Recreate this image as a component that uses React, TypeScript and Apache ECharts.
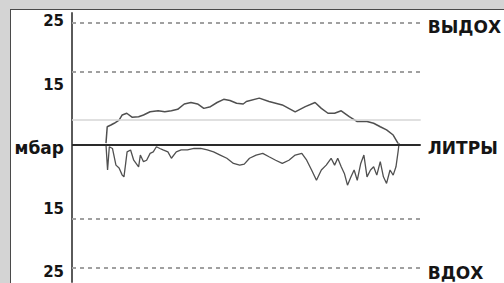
import React, { useEffect, useRef } from "react";
import * as echarts from "echarts";

// Exhale (upper) pressure trace: time (% of cycle) and pressure (mbar)
const exhaleT = [9.75, 10.1, 11.15, 12.1, 13.5, 14.4, 15.7, 17.2, 19.1, 20.5, 22.4, 24.7, 26.6, 28.5, 30.3, 32.2, 34.1, 36.0, 37.8, 39.7, 41.6, 43.5, 45.3, 47.2, 49.1, 50.0, 53.7, 56.5, 60.3, 64.0, 66.9, 69.7, 71.5, 73.4, 75.3, 77.2, 79.5, 81.8, 84.6, 86.5, 88.4, 90.2, 92.1, 93.5];
const exhaleV = [0.4, 3.75, 4.1, 4.45, 5.1, 6.15, 6.5, 5.7, 5.8, 6.15, 6.8, 7.0, 6.8, 7.0, 7.3, 8.4, 8.7, 8.4, 7.5, 7.85, 8.7, 9.35, 9.1, 8.55, 8.4, 8.9, 9.6, 8.9, 8.2, 6.8, 7.85, 8.7, 7.5, 6.5, 6.5, 7.0, 5.8, 4.8, 4.8, 4.45, 3.75, 3.1, 2.05, 0.35];

// Inhale (lower) pressure trace
const inhaleT = [9.75, 10.2, 10.7, 11.6, 12.6, 13.5, 14.4, 14.9, 15.4, 15.8, 16.8, 17.7, 19.1, 19.6, 20.5, 21.4, 22.4, 23.3, 24.2, 25.2, 26.1, 27.5, 28.5, 29.9, 31.3, 33.1, 35.0, 36.9, 38.8, 40.6, 42.5, 44.4, 46.3, 48.1, 49.4, 50.9, 52.8, 54.7, 56.5, 58.4, 60.3, 62.2, 64.0, 65.9, 67.3, 68.7, 70.1, 71.5, 72.9, 74.3, 75.3, 76.2, 77.2, 78.1, 79.0, 80.0, 80.9, 81.8, 82.8, 83.7, 84.6, 85.6, 86.5, 87.4, 88.4, 89.3, 90.2, 91.2, 92.1, 92.9, 93.5, 93.8];
const inhaleV = [0, -5.1, -0.35, -0.7, -4.1, -4.7, -6.15, -6.5, -3.7, -1.4, -1.0, -3.1, -4.45, -2.05, -3.4, -3.1, -1.7, -1.4, -0.35, -0.7, -1.0, -1.4, -2.7, -1.4, -1.0, -1.0, -0.7, -0.7, -1.0, -1.4, -2.05, -2.7, -3.75, -4.1, -3.9, -2.7, -2.05, -1.7, -2.4, -3.1, -3.75, -3.1, -2.05, -1.7, -3.1, -5.1, -7.2, -5.1, -4.1, -2.7, -4.1, -2.7, -4.45, -5.8, -8.2, -6.5, -5.1, -7.2, -3.75, -2.05, -6.5, -5.1, -4.45, -6.15, -3.4, -6.5, -7.85, -5.1, -6.15, -4.45, -1.4, 0.4];

const dashedLevels = [25, 15, -15, -25];
const zeroLevel = 0;
const volumeLevel = 5.2;

const leftTicks = [25, 15, 0, -15, -25];
const leftLabels = ["25", "15", "мбар", "15", "25"];
const rightTicks = [25, 0, -25];
const rightLabels = ["ВЫДОХ", "ЛИТРЫ", "ВДОХ"];

const FONT = "'DejaVu Sans', 'Liberation Sans', sans-serif";

export default function App() {
  const ref = useRef<HTMLDivElement>(null);

  useEffect(() => {
    if (!ref.current) return;
    const chart = echarts.init(ref.current, undefined, { renderer: "svg" });

    const baseText = { fontFamily: FONT, fontWeight: "bold" as const, fontSize: 15, color: "#151515" };
    const leftPad: number[][] = [[0, 0, 4, 0], [26, 0, 0, 0], [6, 0, 0, 0], [0, 0, 18, 0], [10, 0, 0, 0]];
    const leftSize = [15, 15, 17, 15, 15];
    const rightPad: number[][] = [[8, 0, 0, 0], [6, 0, 0, 0], [12, 0, 0, 0]];
    const leftRich: any = {};
    leftPad.forEach((p, i) => (leftRich["l" + i] = { ...baseText, fontSize: leftSize[i], padding: p }));
    const rightRich: any = {};
    rightPad.forEach((p, i) => (rightRich["r" + i] = { ...baseText, fontSize: 17, padding: p }));

    const dashed = { type: [4, 4] as any, width: 2, color: "#a0a0a0" };

    chart.setOption({
      animation: false,
      backgroundColor: "transparent",
      grid: { left: 72, right: 76, top: 13, bottom: 1 },
      xAxis: { type: "value", min: 0, max: 100, show: false },
      yAxis: [
        {
          type: "value",
          min: -28,
          max: 27,
          position: "left",
          axisLine: { show: true, lineStyle: { color: "#5a5a5a", width: 2 } },
          axisTick: { show: false },
          splitLine: { show: false },
          axisLabel: {
            customValues: leftTicks,
            margin: 8,
            formatter: (v: number) => {
              const i = leftTicks.indexOf(Math.round(v));
              return i < 0 ? "" : `{l${i}|${leftLabels[i]}}`;
            },
            rich: leftRich,
          },
        },
        {
          type: "value",
          min: -28,
          max: 27,
          position: "right",
          axisLine: { show: false },
          axisTick: { show: false },
          splitLine: { show: false },
          axisLabel: {
            customValues: rightTicks,
            margin: 7,
            align: "left",
            formatter: (v: number) => {
              const i = rightTicks.indexOf(Math.round(v));
              return i < 0 ? "" : `{r${i}|${rightLabels[i]}}`;
            },
            rich: rightRich,
          },
        },
      ],
      series: [
        {
          type: "line",
          name: "exhale",
          data: exhaleT.map((t, i) => [t, exhaleV[i]]),
          showSymbol: false,
          lineStyle: { color: "#505050", width: 1.5 },
          z: 3,
          markLine: {
            silent: true,
            symbol: "none",
            label: { show: false },
            data: [
              ...dashedLevels.map((v) => ({ yAxis: v, lineStyle: dashed })),
              { yAxis: volumeLevel, lineStyle: { type: "solid", width: 1.5, color: "#d6d6d6" } },
              { yAxis: zeroLevel, lineStyle: { type: "solid", width: 2, color: "#2a2a2a" } },
            ],
          },
        },
        {
          type: "line",
          name: "inhale",
          data: inhaleT.map((t, i) => [t, inhaleV[i]]),
          showSymbol: false,
          lineStyle: { color: "#505050", width: 1.3 },
          z: 3,
        },
      ],
    });

    return () => chart.dispose();
  }, []);

  return (
    <div style={{ position: "fixed", left: 0, top: 0, width: 504, height: 283, background: "#d4d4d4", overflow: "hidden" }}>
      <div
        style={{
          position: "absolute",
          left: 10,
          top: 9,
          width: 510,
          height: 290,
          background: "#ffffff",
          border: "1px solid #4a4a4a",
        }}
      />
      <div ref={ref} style={{ position: "absolute", left: 0, top: 0, width: 504, height: 283 }} />
    </div>
  );
}
